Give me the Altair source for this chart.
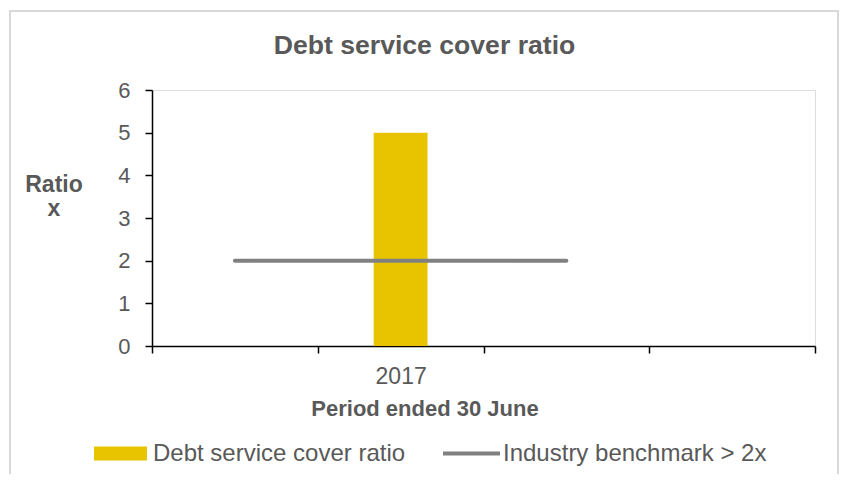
import altair as alt
import pandas as pd

# ---- data ----
categories = ["c1", "2017", "c3", "c4"]
tick_labels = ["", "2017", "", ""]
ratio_periods = ["2017"]
ratio_values = [5.0]
bench_periods = ["c1", "2017", "c3"]
bench_values = [2.0, 2.0, 2.0]
y_ticks = [0, 1, 2, 3, 4, 5, 6]

bar_name = "Debt service cover ratio"
line_name = "Industry benchmark > 2x"

bar_df = pd.DataFrame({"period": ratio_periods, "value": ratio_values,
                       "series": [bar_name] * len(ratio_periods)})
line_df = pd.DataFrame({"period": bench_periods, "value": bench_values,
                        "series": [line_name] * len(bench_periods)})

# label expression built from the arrays
label_expr = "''"
for c, l in zip(categories, tick_labels):
    label_expr = f"datum.value === '{c}' ? '{l}' : ({label_expr})"

GRAY_TXT = "#595959"
FONT = "Liberation Sans"

x_enc = alt.X(
    "period:N",
    sort=categories,
    scale=alt.Scale(domain=categories, paddingInner=0, paddingOuter=0),
    axis=alt.Axis(
        title="Period ended 30 June",
        titleFontSize=22, titleFontWeight="bold", titleColor=GRAY_TXT, titleFont=FONT,
        titleX=272.5, titleY=69, titleAlign="center", titleBaseline="alphabetic",
        labelExpr=label_expr, labelFontSize=23, labelColor=GRAY_TXT, labelFont=FONT,
        labelAngle=0, labelBaseline="alphabetic", labelPadding=30,
        tickSize=7, tickColor="#000000", tickWidth=1.5, tickBand="extent",
        domainColor="#000000", domainWidth=1.5, grid=False,
    ),
)

y_enc = alt.Y(
    "value:Q",
    scale=alt.Scale(domain=[0, 6], nice=False),
    axis=alt.Axis(
        values=y_ticks, title=["Ratio", "x"],
        titleFontSize=23, titleFontWeight="bold", titleColor=GRAY_TXT, titleFont=FONT,
        titleAngle=0, titleAlign="center", titleBaseline="alphabetic",
        titleX=-98.5, titleY=101, titleLineHeight=24,
        labelFontSize=22, labelColor=GRAY_TXT, labelFont=FONT, labelPadding=15,
        tickSize=7, tickColor="#000000", tickWidth=1.5,
        domainColor="#000000", domainWidth=1.5, grid=False,
    ),
)

bars = alt.Chart(bar_df).mark_bar(width=alt.RelativeBandSize(0.325)).encode(
    x=x_enc,
    y=y_enc,
    fill=alt.Fill(
        "series:N",
        scale=alt.Scale(domain=[bar_name], range=["#E8C300"]),
        legend=alt.Legend(
            title=None, orient="none", legendX=-58, legendY=337, padding=0,
            symbolType="M-1,-0.264H1V0.264H-1Z", symbolSize=2809,
            symbolStrokeWidth=0, symbolOpacity=1, labelLimit=400,
            labelFontSize=24, labelColor=GRAY_TXT, labelFont=FONT, labelOffset=6,
        ),
    ),
)

line = alt.Chart(line_df).mark_line(strokeWidth=4, strokeCap="round").encode(
    x=alt.X("period:N", sort=categories),
    y=alt.Y("value:Q"),
    stroke=alt.Stroke(
        "series:N",
        scale=alt.Scale(domain=[line_name], range=["#808080"]),
        legend=alt.Legend(
            title=None, orient="none", legendX=289, legendY=333, padding=0,
            symbolType="stroke", symbolSize=3249, symbolStrokeWidth=4, labelLimit=400,
            labelFontSize=24, labelColor=GRAY_TXT, labelFont=FONT, labelOffset=1,
        ),
    ),
)

border_df = pd.DataFrame({"k": [0]})
border = alt.Chart(border_df).mark_rect(
    filled=False, stroke="#D9D9D9", strokeWidth=2, clip=False
).encode(
    x=alt.value(-142), x2=alt.value(686), y=alt.value(-79), y2=alt.value(420)
)

chart = alt.layer(border, bars, line).properties(
    width=663,
    height=256,
    title=alt.TitleParams(
        "Debt service cover ratio", fontSize=26.6, fontWeight="bold",
        color=GRAY_TXT, font=FONT, anchor="middle", dx=-59,
        baseline="alphabetic", offset=-71,
    ),
    autosize=alt.AutoSizeParams(type="none"),
    padding={"left": 144, "top": 82, "right": 24, "bottom": 128},
).configure_view(stroke=None).configure(font=FONT)

chart.save("out.html", embed_options={"renderer": "svg", "actions": False})
